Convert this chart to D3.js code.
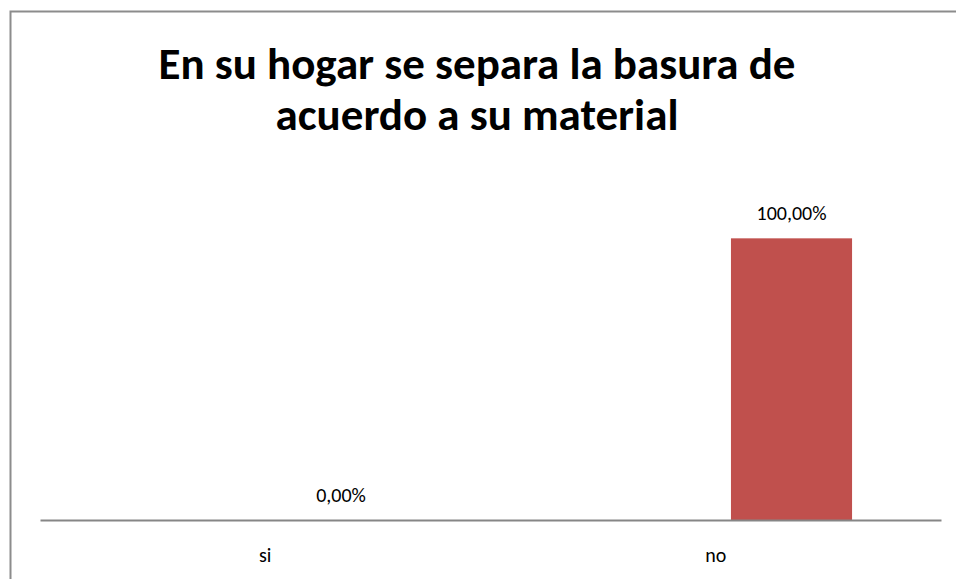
<!DOCTYPE html>
<html>
<head>
<meta charset="utf-8">
<script src="https://cdn.jsdelivr.net/npm/d3@7"></script>
<style>
  body { margin: 0; background: #fff; }
  svg text { font-family: Carlito, Calibri, Lato, "Open Sans", sans-serif; fill: #000; }
</style>
</head>
<body>
<svg id="chart" width="956" height="579"></svg>
<script>
var categories = ["si", "no"];
var series = ["serie1", "serie2"];
var values = [0, 1];             // serie2, the only one drawn
var labels = ["0,00%", "100,00%"];
var titleLines = ["En su hogar se separa la basura de", "acuerdo a su material"];

var svg = d3.select("svg#chart"),
    margin = {top: 182, right: 15, bottom: 59, left: 40},
    width = +svg.attr("width") - margin.left - margin.right,
    height = +svg.attr("height") - margin.top - margin.bottom;

// outer frame, cut off by the picture on the right and bottom
svg.append("rect")
    .attr("x", 10.5)
    .attr("y", 11.5)
    .attr("width", 960)
    .attr("height", 600)
    .attr("fill", "#fff")
    .attr("stroke", "#8c8c8c")
    .attr("stroke-width", 2);

// title
svg.append("text")
    .attr("x", 477)
    .attr("y", 79)
    .attr("text-anchor", "middle")
    .style("font-size", "45px")
    .style("font-weight", "bold")
  .selectAll("tspan")
    .data(titleLines)
  .enter().append("tspan")
    .attr("x", 477)
    .attr("dy", function(d, i) { return i ? 51 : 0; })
    .text(function(d) { return d; });

var x = d3.scaleBand().domain(categories).range([0, width]);
var xs = d3.scaleBand().domain(series).range([0, x.bandwidth()])
    .paddingOuter(0.86).align(0.573);
var y = d3.scaleLinear().domain([0, 1.2]).range([height, 0]);

var g = svg.append("g")
    .attr("transform", "translate(" + margin.left + "," + margin.top + ")");

g.selectAll(".bar")
    .data(values)
  .enter().append("rect")
    .attr("class", "bar")
    .attr("x", function(d, i) { return x(categories[i]) + xs("serie2"); })
    .attr("width", xs.bandwidth())
    .attr("y", function(d) { return y(d); })
    .attr("height", function(d) { return height - y(d); })
    .attr("fill", "#c0504d");

g.selectAll(".label")
    .data(values)
  .enter().append("text")
    .attr("class", "label")
    .attr("x", function(d, i) { return x(categories[i]) + xs("serie2") + xs.bandwidth() / 2; })
    .attr("y", function(d) { return y(d) - 18; })
    .attr("text-anchor", "middle")
    .style("font-size", "20px")
    .text(function(d, i) { return labels[i]; });

var xAxis = g.append("g")
    .attr("transform", "translate(0," + height + ")")
    .call(d3.axisBottom(x).tickSize(0).tickPadding(28));

xAxis.select(".domain").attr("stroke", "#868686").attr("stroke-width", 2);
xAxis.selectAll("text")
    .style("font-size", "20px")
    .attr("fill", "#000");
</script>
</body>
</html>
